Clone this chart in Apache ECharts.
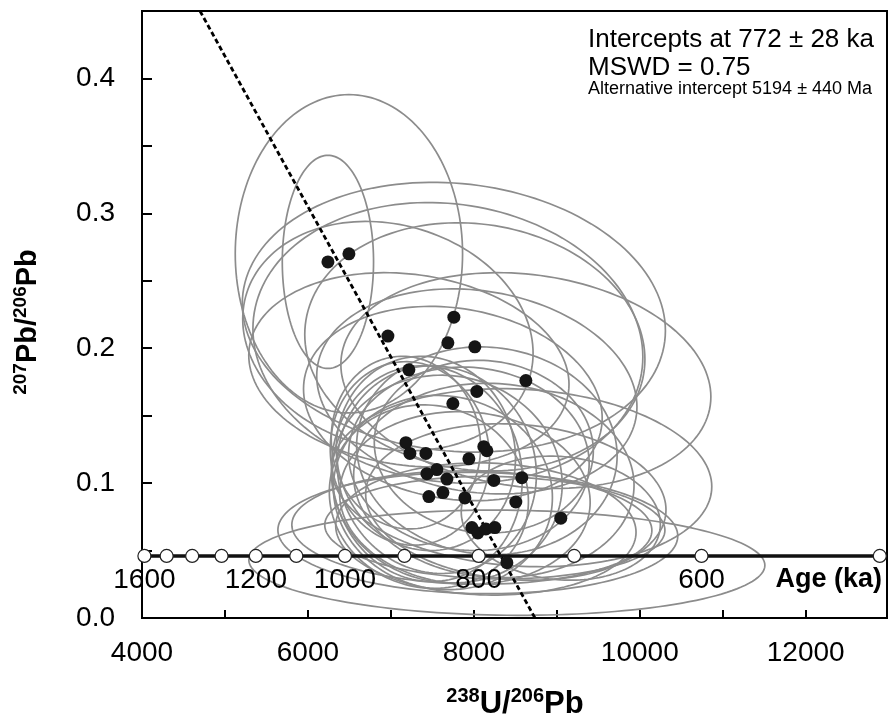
<!DOCTYPE html>
<html><head><meta charset="utf-8">
<script src="https://cdn.jsdelivr.net/npm/echarts@6/dist/echarts.min.js"></script>
<style>html,body{margin:0;padding:0;background:#fff}#c{width:888px;height:722px}</style>
</head><body><div id="c"></div>
<script>
// ---- data ----
const pointX = [6241, 6494, 7759, 6964, 7687, 8012, 7217, 8627, 8036, 7747, 7181, 7229, 7422, 8120, 8157, 7940, 7554, 7434, 7675, 8241, 8578, 7458, 7627, 7892, 8506, 9048, 7976, 8048, 8145, 8253, 8398];
const pointY = [0.264, 0.270, 0.223, 0.209, 0.204, 0.201, 0.184, 0.176, 0.168, 0.159, 0.130, 0.122, 0.122, 0.127, 0.124, 0.118, 0.110, 0.107, 0.103, 0.102, 0.104, 0.090, 0.093, 0.089, 0.086, 0.074, 0.067, 0.063, 0.066, 0.067, 0.041];
const errX = [550, 1370, 2550, 1750, 2350, 2050, 1930, 2230, 1930, 1800, 900, 960, 1080, 1320, 1570, 1450, 1200, 1150, 1390, 1690, 2290, 1200, 1320, 1510, 1810, 1200, 2170, 2410, 1810, 2050, 3110];
const errY = [0.079, 0.118, 0.100, 0.085, 0.104, 0.092, 0.072, 0.080, 0.076, 0.072, 0.064, 0.068, 0.072, 0.064, 0.077, 0.068, 0.077, 0.080, 0.077, 0.072, 0.066, 0.068, 0.072, 0.064, 0.058, 0.046, 0.042, 0.045, 0.049, 0.038, 0.039];
const errRho = [0, 0, -0.1, -0.15, -0.1, -0.1, -0.15, -0.15, -0.15, -0.15, -0.05, -0.05, -0.05, -0.05, -0.05, -0.05, -0.05, -0.05, -0.05, -0.05, -0.1, -0.05, -0.05, -0.05, -0.1, -0.1, -0.05, -0.05, -0.05, -0.05, -0.05];

const concordiaAges = [1600, 1500, 1400, 1300, 1200, 1100, 1000, 900, 800, 700, 600, 500];
const concordiaX = [4029, 4297, 4605, 4959, 5372, 5860, 6446, 7163, 8058, 9209, 10744, 12893];
const concordiaY = [0.046, 0.046, 0.046, 0.046, 0.046, 0.046, 0.046, 0.046, 0.046, 0.046, 0.046, 0.046];
const labelledAges = [1600, 1200, 1000, 800, 600];

const regressionX = [4699, 8737];
const regressionY = [0.45, 0.0];

const xTickLabels = [4000, 6000, 8000, 10000, 12000];
const yTickLabels = [0.0, 0.1, 0.2, 0.3, 0.4];

const infoLines = ['Intercepts at 772 \u00b1 28 ka', 'MSWD = 0.75', 'Alternative intercept 5194 \u00b1 440 Ma'];

// ---- build series data ----
const ellipseData = pointX.map((x, i) => [x, pointY[i], errX[i], errY[i], errRho[i]]);
const dotData = pointX.map((x, i) => [x, pointY[i]]);
const concordiaData = concordiaX.map((x, i) => [x, concordiaY[i], concordiaAges[i]]);
const ageLabelData = concordiaData.filter(d => labelledAges.indexOf(d[2]) >= 0);
const regressionData = regressionX.map((x, i) => [x, regressionY[i]]);

const FONT = "'Liberation Sans', Arial, sans-serif";

function renderEllipse(params, api) {
  const cx = api.value(0), cy = api.value(1), sx = api.value(2), sy = api.value(3), r = api.value(4);
  const k = Math.sqrt(1 - r * r);
  const pts = [];
  const n = 160;
  for (let i = 0; i < n; i++) {
    const t = i / n * 2 * Math.PI;
    pts.push(api.coord([cx + sx * Math.cos(t), cy + sy * (r * Math.cos(t) + k * Math.sin(t))]));
  }
  return {
    type: 'polygon',
    shape: { points: pts },
    style: { fill: 'none', stroke: '#8c8c8c', lineWidth: 1.7 },
    silent: true
  };
}

const chart = echarts.init(document.getElementById('c'), null, { renderer: 'canvas' });
chart.setOption({
  animation: false,
  backgroundColor: '#ffffff',
  grid: { left: 142, top: 11, right: 1, bottom: 104, show: true, borderColor: '#000', borderWidth: 2, backgroundColor: 'transparent' },
  xAxis: {
    type: 'value', min: 4000, max: 12980, interval: 1000,
    axisLine: { show: true, lineStyle: { color: '#000', width: 2 } },
    axisTick: { show: true, inside: true, length: 8, lineStyle: { color: '#000', width: 2 } },
    splitLine: { show: false },
    axisLabel: {
      margin: 21, color: '#000', fontSize: 28, fontFamily: FONT,
      showMaxLabel: false,
      formatter: v => xTickLabels.indexOf(Math.round(v)) >= 0 ? String(Math.round(v)) : ''
    }
  },
  yAxis: {
    type: 'value', min: 0, max: 0.45, interval: 0.05,
    axisLine: { show: true, lineStyle: { color: '#000', width: 2 } },
    axisTick: { show: true, inside: true, length: 10, lineStyle: { color: '#000', width: 2 } },
    splitLine: { show: false },
    axisLabel: {
      margin: 27, color: '#000', fontSize: 28, fontFamily: FONT,
      showMaxLabel: false,
      formatter: v => {
        const r = Math.round(v * 100) / 100;
        return yTickLabels.some(t => Math.abs(t - r) < 1e-6) ? r.toFixed(1) : '';
      }
    }
  },
  series: [
    {
      type: 'custom', name: 'ellipses', renderItem: renderEllipse,
      data: ellipseData, encode: { x: 0, y: 1 }, z: 2, silent: true
    },
    {
      type: 'line', name: 'concordia', data: concordiaData, encode: { x: 0, y: 1 },
      lineStyle: { color: '#111', width: 3.5 },
      symbol: 'circle', symbolSize: 13, showAllSymbol: true,
      itemStyle: { color: '#fff', borderColor: '#222', borderWidth: 1.2, opacity: 1 },
      z: 3, silent: true
    },
    {
      type: 'line', name: 'regression', data: regressionData,
      lineStyle: { color: '#000', width: 2.8, type: [5, 3] },
      symbol: 'none', z: 4, silent: true
    },
    {
      type: 'scatter', name: 'points', data: dotData,
      symbol: 'circle', symbolSize: 13,
      itemStyle: { color: '#151515', opacity: 1 }, z: 5, silent: true
    },
    {
      type: 'scatter', name: 'ageLabels', data: ageLabelData, encode: { x: 0, y: 1 },
      symbolSize: 0, z: 6, silent: true,
      itemStyle: { opacity: 1 },
      label: {
        show: true, position: 'inside', offset: [0, 24],
        formatter: p => String(p.value[2]),
        color: '#000', opacity: 1, fontSize: 28, fontFamily: FONT
      }
    }
  ],
  graphic: [
    { type: 'text', x: 882, y: 580, z: 10, style: { text: 'Age (ka)', fill: '#000', font: "bold 27px 'Liberation Sans', Arial, sans-serif", align: 'right', verticalAlign: 'middle' } },
    { type: 'text', x: 588, y: 40, z: 10, style: { text: infoLines[0], fill: '#000', font: "26px 'Liberation Sans', Arial, sans-serif", align: 'left', verticalAlign: 'middle' } },
    { type: 'text', x: 588, y: 68, z: 10, style: { text: infoLines[1], fill: '#000', font: "26px 'Liberation Sans', Arial, sans-serif", align: 'left', verticalAlign: 'middle' } },
    { type: 'text', x: 588, y: 89, z: 10, style: { text: infoLines[2], fill: '#000', font: "18px 'Liberation Sans', Arial, sans-serif", align: 'left', verticalAlign: 'middle' } },
    {
      type: 'text', x: 515, y: 704, z: 10,
      style: {
        text: '{s|238}{b|U/}{s|206}{b|Pb}', align: 'center', verticalAlign: 'middle', fill: '#000',
        rich: {
          b: { fontSize: 31, fontWeight: 'bold', fontFamily: FONT, lineHeight: 36, fill: '#000' },
          s: { fontSize: 20, fontWeight: 'bold', fontFamily: FONT, lineHeight: 24, verticalAlign: 'top', fill: '#000' }
        }
      }
    },
    {
      type: 'text', x: 28, y: 322, z: 10, rotation: Math.PI / 2,
      style: {
        text: '{s|207}{b|Pb/}{s|206}{b|Pb}', align: 'center', verticalAlign: 'middle', fill: '#000',
        rich: {
          b: { fontSize: 29, fontWeight: 'bold', fontFamily: FONT, lineHeight: 34, fill: '#000' },
          s: { fontSize: 19, fontWeight: 'bold', fontFamily: FONT, lineHeight: 22, verticalAlign: 'top', fill: '#000' }
        }
      }
    }
  ]
});
</script>
</body></html>
